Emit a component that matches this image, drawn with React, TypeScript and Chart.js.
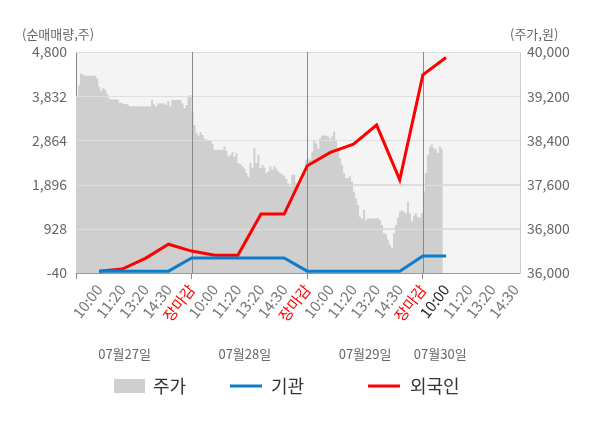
import { useEffect, useRef } from 'react';
import Chart from 'chart.js/auto';

// ============= DATA =============
const timeLabels = [
    '10:00', '11:20', '13:20', '14:30', '장마감',
    '10:00', '11:20', '13:20', '14:30', '장마감',
    '10:00', '11:20', '13:20', '14:30', '장마감',
    '10:00', '11:20', '13:20', '14:30',
];
const currentSlot = 16; // day 4, 10:00
const dayLabels = ['07월27일', '07월28일', '07월29일', '07월30일'];
const dayLabelSlots = [2.1, 7.3, 12.5, 15.75];

const leftTicks = [-40, 928, 1896, 2864, 3832, 4800];
const rightTicks = [36000, 36800, 37600, 38400, 39200, 40000];

// net buying (주), one value per time slot starting at day 1 10:00
const institution = [0, 0, 0, 0, 290, 290, 290, 290, 290, 0, 0, 0, 0, 0, 330, 330];
const foreigner = [0, 45, 280, 590, 440, 350, 350, 1250, 1250, 2310, 2600, 2780, 3200, 2000, 4300, 4680];

// price (원), sampled evenly through each trading day
const priceDay1 = [
    39190, 39400, 39610, 39590, 39570, 39570, 39570, 39570, 39570, 39570,
    39520, 39370, 39290, 39350, 39310, 39230, 39160, 39140, 39140, 39140,
    39140, 39080, 39080, 39060, 39060, 39050, 39020, 39020, 39020, 39020,
    39020, 39020, 39020, 39020, 39020, 39020, 39020, 39130, 39050, 39020,
    39070, 39070, 39070, 39070, 39040, 39110, 39020, 39130, 39130, 39130,
    39130, 39130, 39070, 38980, 39040, 39210, 39220, 39220,
];
const priceDay2 = [
    38920, 38680, 38530, 38490, 38550, 38500, 38430, 38410, 38400, 38400,
    38340, 38230, 38230, 38230, 38230, 38230, 38290, 38210, 38110, 38140,
    38190, 38110, 38170, 37990, 37970, 37930, 37890, 37810, 37740, 37990,
    37900, 38260, 37990, 38140, 37900, 37960, 37910, 37810, 37840, 37930,
    37870, 37930, 37890, 37840, 37810, 37780, 37760, 37700, 37620, 37560,
    37780, 37780, 37630, 37560, 37590, 37680, 37810, 38050, 38170,
];
const priceDay3 = [
    38080, 38050, 38200, 38410, 38350, 38250, 38440, 38490, 38490, 38490,
    38470, 38430, 38470, 38560, 38410, 38260, 38080, 37960, 37810, 37720,
    37720, 37750, 37650, 37470, 37350, 37230, 37020, 36980, 37140, 36960,
    36990, 36990, 36990, 36980, 36990, 36990, 36960, 36870, 36720, 36700,
    36600, 36510, 36450, 36720, 36870, 37000, 37110, 37140, 37110, 37080,
    37290, 37080, 36930, 37040, 37080, 37020, 37000, 37080, 37360,
];
const priceDay4 = [37470, 37810, 38140, 38290, 38330, 38260, 38250, 38170, 38290, 38250, 38260];

const legendNames = ['주가', '기관', '외국인'];

// ============= STYLE =============
const FONT = "'Noto Sans CJK KR', 'Noto Sans', sans-serif";
const PRICE_FILL = '#cfcfcf';
const BLUE = '#0a7dcc';
const RED = '#ff0000';
const DAY_LINE = '#8a8a8a';
const SLOT_MAX = 19.2;

const closeSlots = timeLabels.map((l, i) => (l === '장마감' ? i + 1 : -1)).filter(v => v > 0);
const fmt = (v: number) => v.toLocaleString('en-US');

const buildPrice = () => {
    const days = [priceDay1, priceDay2, priceDay3];
    const pts: { x: number; y: number }[] = [];
    days.forEach((arr, d) => {
        const step = 5 / (arr.length - 1);
        arr.forEach((v, i) => pts.push({ x: d * 5 + i * step, y: v }));
    });
    const step4 = 5 / (priceDay2.length - 1);
    priceDay4.forEach((v, i) => pts.push({ x: 15 + i * step4, y: v }));
    return pts;
};

const plotBackground = {
    id: 'plotBackground',
    beforeDraw(chart: any) {
        const { ctx, chartArea: a } = chart;
        ctx.save();
        ctx.fillStyle = '#f4f4f4';
        ctx.fillRect(a.left, a.top, a.right - a.left, a.bottom - a.top);
        ctx.restore();
    },
};

// grid lines show through the price area in the original
const gridOverArea = {
    id: 'gridOverArea',
    afterDatasetDraw(chart: any, args: any) {
        if (args.index !== 2) return;
        const { ctx, chartArea: a, scales } = chart;
        ctx.save();
        ctx.lineWidth = 1;
        ctx.strokeStyle = '#dedede';
        leftTicks.slice(1).forEach(v => {
            const y = Math.round(scales.y.getPixelForValue(v)) + 0.5;
            ctx.beginPath();
            ctx.moveTo(a.left, y);
            ctx.lineTo(a.right, y);
            ctx.stroke();
        });
        ctx.strokeStyle = DAY_LINE;
        closeSlots.forEach(s => {
            const x = Math.round(scales.x.getPixelForValue(s)) + 0.5;
            ctx.beginPath();
            ctx.moveTo(x, a.top);
            ctx.lineTo(x, a.bottom);
            ctx.stroke();
        });
        ctx.restore();
    },
};

const extraText = {
    id: 'extraText',
    afterDraw(chart: any) {
        const { ctx, scales } = chart;
        ctx.save();
        ctx.textBaseline = 'middle';
        ctx.fillStyle = '#666';
        ctx.font = `13px ${FONT}`;
        ctx.textAlign = 'left';
        ctx.fillText('(순매매량,주)', 22, 34);
        ctx.fillText('(주가,원)', 510, 34);

        ctx.textAlign = 'center';
        dayLabels.forEach((l, i) => {
            ctx.fillText(l, scales.x.getPixelForValue(dayLabelSlots[i]), 354);
        });

        // legend
        const ly = 386;
        ctx.font = `18px ${FONT}`;
        ctx.textAlign = 'left';
        ctx.fillStyle = PRICE_FILL;
        ctx.fillRect(114, ly - 7, 31, 14);
        ctx.fillStyle = '#333';
        ctx.fillText(legendNames[0], 153, ly);

        ctx.lineWidth = 3;
        ctx.strokeStyle = BLUE;
        ctx.beginPath();
        ctx.moveTo(230, ly);
        ctx.lineTo(262, ly);
        ctx.stroke();
        ctx.fillText(legendNames[1], 271, ly);

        ctx.strokeStyle = RED;
        ctx.beginPath();
        ctx.moveTo(368, ly);
        ctx.lineTo(400, ly);
        ctx.stroke();
        ctx.fillText(legendNames[2], 410, ly);
        ctx.restore();
    },
};

const TradeChart = () => {
    const chartRef = useRef<HTMLCanvasElement>(null);
    const chartInstance = useRef<Chart | null>(null);

    useEffect(() => {
        if (!chartRef.current) return;
        if (chartInstance.current) chartInstance.current.destroy();
        const ctx = chartRef.current.getContext('2d');
        if (!ctx) return;

        chartInstance.current = new Chart(ctx, {
            type: 'line',
            data: {
                datasets: [
                    {
                        label: legendNames[1],
                        data: institution.map((v, i) => ({ x: i + 1, y: v })),
                        yAxisID: 'y',
                        borderColor: BLUE,
                        borderWidth: 3,
                        pointRadius: 0,
                        tension: 0,
                        order: 0,
                    },
                    {
                        label: legendNames[2],
                        data: foreigner.map((v, i) => ({ x: i + 1, y: v })),
                        yAxisID: 'y',
                        borderColor: RED,
                        borderWidth: 3,
                        pointRadius: 0,
                        tension: 0,
                        order: 1,
                    },
                    {
                        label: legendNames[0],
                        data: buildPrice(),
                        yAxisID: 'y1',
                        borderWidth: 0,
                        borderColor: PRICE_FILL,
                        backgroundColor: PRICE_FILL,
                        fill: 'start',
                        stepped: true,
                        pointRadius: 0,
                        order: 2,
                    },
                ],
            },
            options: {
                animation: false,
                responsive: true,
                maintainAspectRatio: false,
                layout: { padding: { top: 52, left: 0, right: 0, bottom: 0 } },
                plugins: {
                    legend: { display: false },
                    tooltip: { enabled: false },
                },
                scales: {
                    x: {
                        type: 'linear',
                        min: 0,
                        max: SLOT_MAX,
                        afterBuildTicks: (scale: any) => {
                            scale.ticks = Array.from({ length: timeLabels.length + 1 }, (_, i) => ({ value: i }));
                        },
                        afterFit: (scale: any) => { scale.height = 155; },
                        border: { color: '#999' },
                        grid: {
                            color: 'rgba(0,0,0,0)',
                            tickColor: (c: any) => (c.tick && c.tick.value % 5 === 0 ? DAY_LINE : 'rgba(0,0,0,0)'),
                            tickLength: 6,
                        },
                        ticks: {
                            autoSkip: false,
                            minRotation: 52,
                            maxRotation: 52,
                            padding: 2,
                            font: { family: FONT, size: 15 },
                            color: (c: any) => {
                                const i = c.index;
                                if (i === currentSlot) return '#222';
                                return timeLabels[i - 1] === '장마감' ? RED : '#777';
                            },
                            callback: (v: any) => (v === 0 ? '' : timeLabels[v - 1] ?? ''),
                        },
                    },
                    y: {
                        position: 'left',
                        min: leftTicks[0],
                        max: leftTicks[leftTicks.length - 1],
                        afterBuildTicks: (scale: any) => { scale.ticks = leftTicks.map(v => ({ value: v })); },
                        afterFit: (scale: any) => { scale.width = 76; },
                        border: { color: '#888' },
                        grid: { color: '#dedede', drawTicks: false },
                        ticks: {
                            padding: 9,
                            color: '#666',
                            font: { family: FONT, size: 14 },
                            callback: (v: any) => fmt(Number(v)),
                        },
                    },
                    y1: {
                        position: 'right',
                        min: rightTicks[0],
                        max: rightTicks[rightTicks.length - 1],
                        afterBuildTicks: (scale: any) => { scale.ticks = rightTicks.map(v => ({ value: v })); },
                        afterFit: (scale: any) => { scale.width = 80; },
                        border: { color: '#ccc' },
                        grid: { display: false, drawTicks: false },
                        ticks: {
                            padding: 7,
                            color: '#666',
                            font: { family: FONT, size: 14 },
                            callback: (v: any) => fmt(Number(v)),
                        },
                    },
                },
            },
            plugins: [plotBackground, gridOverArea, extraText],
        });

        return () => {
            if (chartInstance.current) {
                chartInstance.current.destroy();
                chartInstance.current = null;
            }
        };
    }, []);

    return (
        <div style={{ position: 'relative', width: 600, height: 428, background: '#fff' }}>
            <canvas ref={chartRef}></canvas>
        </div>
    );
};

export default function App() {
    useEffect(() => {
        document.body.style.margin = '0';
    }, []);
    return <TradeChart />;
}
